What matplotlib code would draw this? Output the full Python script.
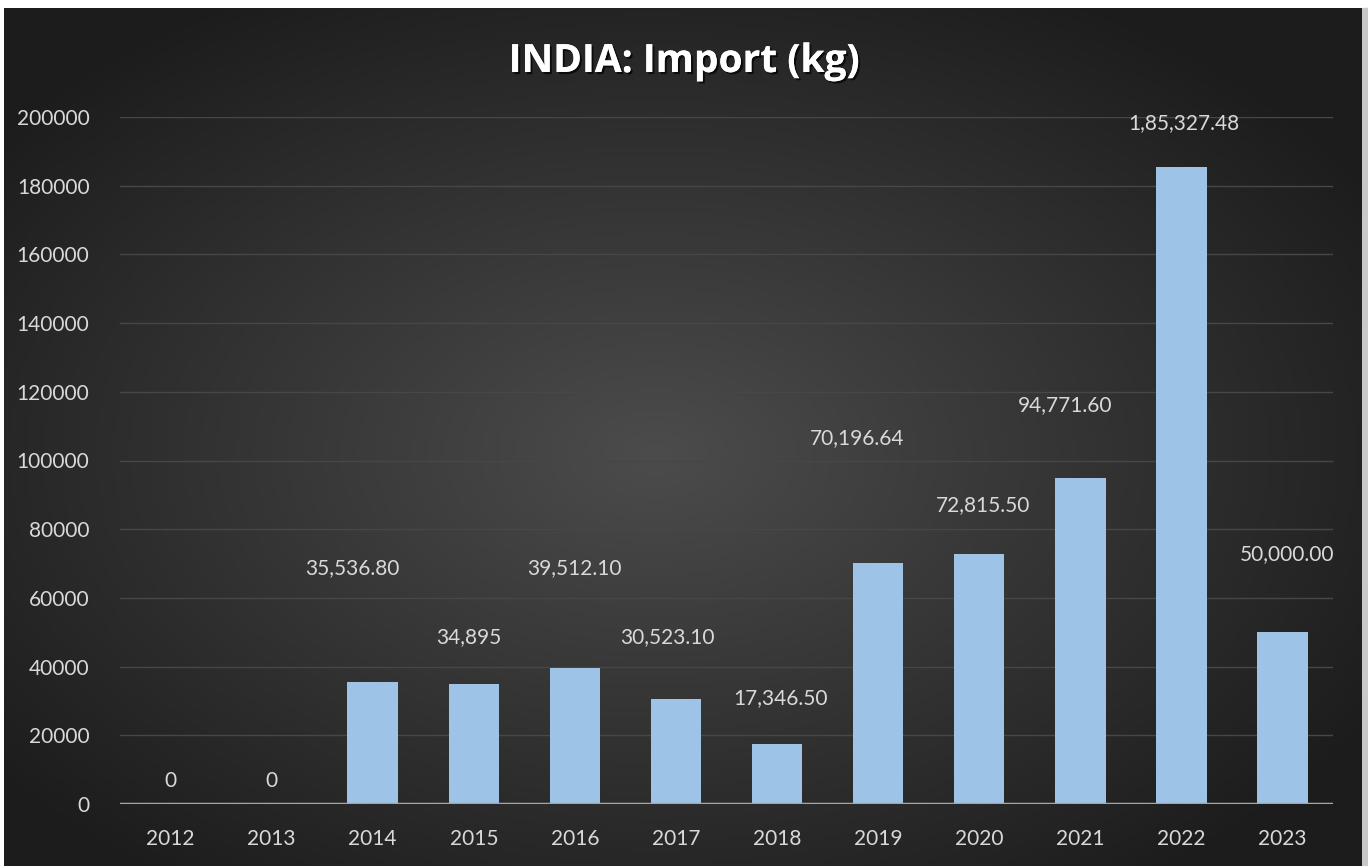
import numpy as np
import matplotlib
matplotlib.use("Agg")
import matplotlib.pyplot as plt
import matplotlib.patheffects as pe

# ---- data ----
years = ["2012", "2013", "2014", "2015", "2016", "2017", "2018", "2019", "2020", "2021", "2022", "2023"]
imports_kg = [0, 0, 35536.80, 34895, 39512.10, 30523.10, 17346.50, 70196.64, 72815.50, 94771.60, 185327.48, 50000.00]
value_labels = ["0", "0", "35,536.80", "34,895", "39,512.10", "30,523.10", "17,346.50",
                "70,196.64", "72,815.50", "94,771.60", "1,85,327.48", "50,000.00"]
y_ticks = [0, 20000, 40000, 60000, 80000, 100000, 120000, 140000, 160000, 180000, 200000]

# manual label placement (as in the source chart)
label_y = [6700, 6700, 68700, 48600, 68700, 48600, 30900, 106500, 87000, 116200, 198200, 72800]
label_dx = [0, 0, -0.2, -0.05, 0, -0.08, 0.03, -0.21, 0.04, -0.15, 0.02, 0.05]

W, H = 1368, 866
fig = plt.figure(figsize=(W / 100, H / 100), dpi=100, facecolor="white")

# right edge strip (light gray as in the source)
fig.patches.append(plt.Rectangle((1362 / W, 0), 6 / W, 1 - 8 / H, transform=fig.transFigure,
                                 color="#C8C8C8", zorder=-20))

# background radial gradient
bx0, bx1, by0, by1 = 4, 1362, 0, 858
bg = fig.add_axes([bx0 / W, by0 / H, (bx1 - bx0) / W, (by1 - by0) / H])
nx, ny = 400, 260
xx, yy = np.meshgrid(np.linspace(0, 1, nx), np.linspace(0, 1, ny))
cx, cy = 0.48, 0.52
r = np.sqrt(((xx - cx) / 0.62) ** 2 + ((yy - cy) / 0.62) ** 2)
r = np.clip(r, 0, 1)
inner = np.array([0x4c, 0x4c, 0x4c]) / 255
outer = np.array([0x1c, 0x1c, 0x1c]) / 255
img = inner[None, None, :] * (1 - r[..., None]) + outer[None, None, :] * r[..., None]
bg.imshow(img, aspect="auto", extent=[0, 1, 0, 1], origin="upper")
bg.set_axis_off()

# main axes
left, right = 120, 1333
bottom_px, top_px = 804, 117
ax = fig.add_axes([left / W, 1 - bottom_px / H, (right - left) / W, (bottom_px - top_px) / H])
ax.set_facecolor("none")

x = np.arange(len(years))
ax.bar(x, imports_kg, width=0.5, color="#9DC3E6", zorder=3)

ax.set_xlim(-0.5, len(years) - 0.5)
ax.set_ylim(0, 200000)
ax.set_yticks(y_ticks)
ax.set_yticklabels([str(v) for v in y_ticks])
ax.set_xticks(x)
ax.set_xticklabels(years)

font = "Lato"
txtc = "#D9D9D9"
for lab in ax.get_yticklabels():
    lab.set_fontfamily(font)
    lab.set_fontsize(15)
    lab.set_color(txtc)
for lab in ax.get_xticklabels():
    lab.set_fontfamily(font)
    lab.set_fontsize(15)
    lab.set_color(txtc)
ax.tick_params(axis="both", length=0)
ax.tick_params(axis="y", pad=22)
ax.tick_params(axis="x", pad=18)

ax.grid(axis="y", color="#474747", linewidth=1.0, zorder=0)
ax.set_axisbelow(True)
for s in ["top", "right", "left", "bottom"]:
    ax.spines[s].set_visible(False)
ax.axhline(0, color="#A6A6A6", linewidth=2.5, zorder=4)

for i, (lbl, ly, dx) in enumerate(zip(value_labels, label_y, label_dx)):
    ax.text(x[i] + dx, ly, lbl, ha="center", va="center", fontsize=15,
            fontfamily=font, color=txtc, zorder=5, clip_on=False)

fig.text(684 / W, 1 - 72 / H, "INDIA: Import (kg)", ha="center", va="baseline",
         fontsize=28, fontweight="bold", fontfamily="Open Sans", color="white",
         path_effects=[pe.withSimplePatchShadow(offset=(1.5, -1.5), shadow_rgbFace="black", alpha=0.7),
                       pe.Normal()])

fig.savefig("out.png", dpi=100, facecolor="white")
